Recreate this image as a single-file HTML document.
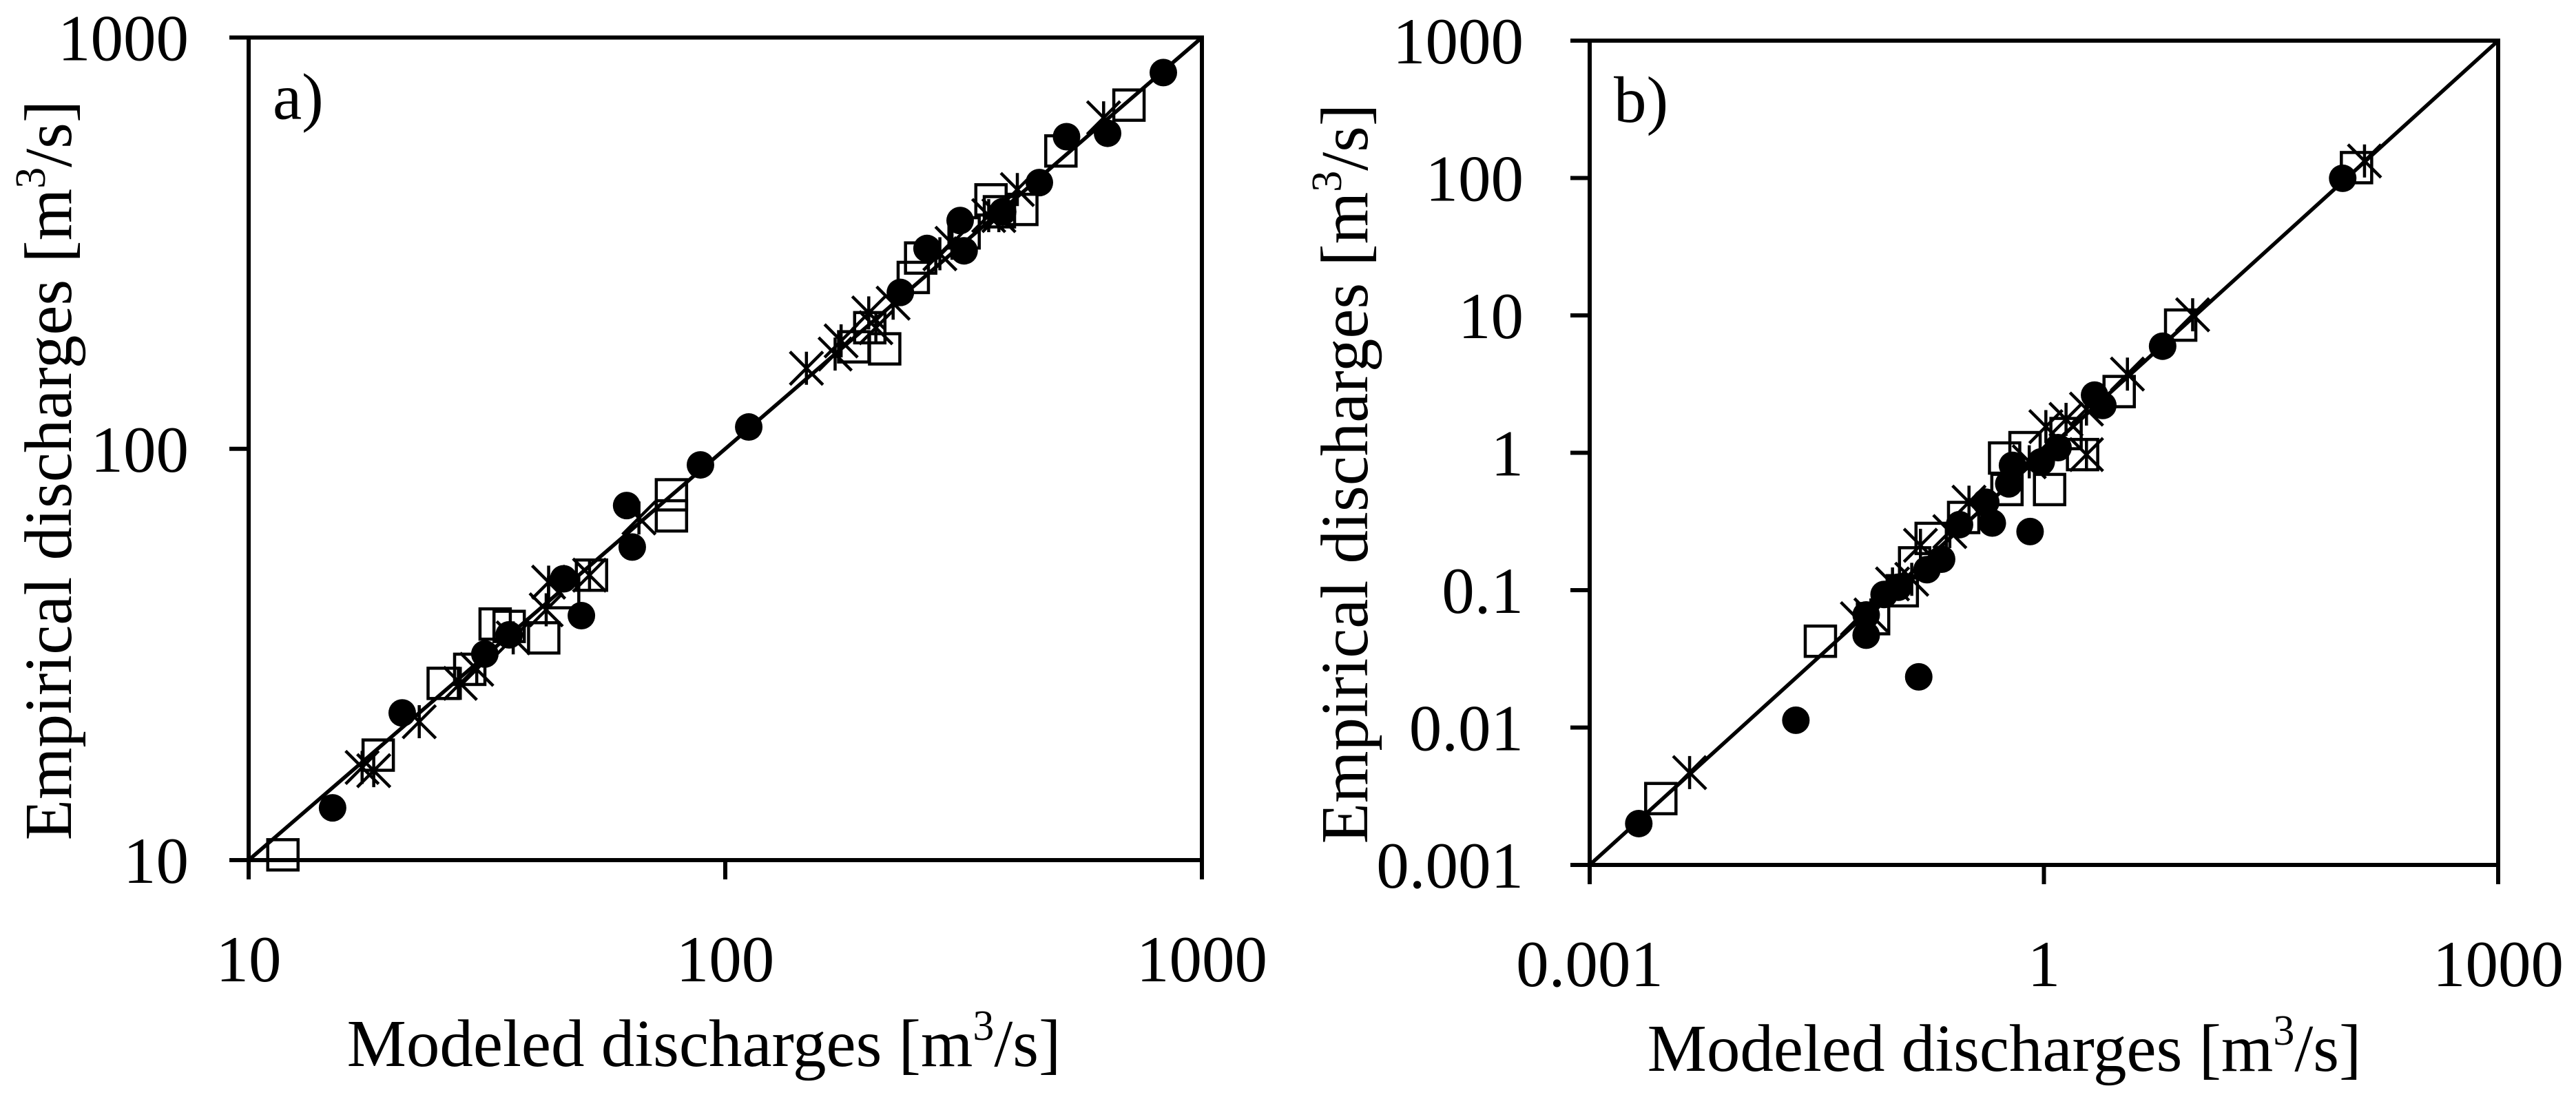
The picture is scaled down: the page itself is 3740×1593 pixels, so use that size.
<!DOCTYPE html>
<html><head><meta charset="utf-8">
<style>
html,body{margin:0;padding:0;background:#fff;}
svg{display:block;}
text{font-family:"Liberation Serif","Times New Roman",serif;fill:#000;}
</style></head>
<body>
<svg id="chart" width="3740" height="1593" viewBox="0 0 3740 1593" xmlns="http://www.w3.org/2000/svg"></svg>
<script>
// ---- Panel a data ----
const aCircleX = [15.0,21.0,31.3,35.2,45.8,49.9,62.1,63.8,88.7,112,233,265,311,317,382,456,520,634,830];
const aCircleY = [13.4,22.8,31.7,35.3,48.3,39.3,72.8,57.7,91.4,113,240,307,359,303,377,444,574,585,822];
const aSquareX = [11.8,18.7,25.6,29.1,32.9,35.2,41.6,45.8,52.4,77.1,77.1,186,201,216,248,257,317,361,376,419,506,703];
const aSquareY = [10.3,18.0,26.9,29.1,37.5,37.0,34.7,44.7,49.3,68.7,77.3,177,197,175,261,291,335,403,377,382,530,685];
const aStarX = [17.3,18.3,22.8,27.8,30.1,35.9,42.1,42.6,51.9,65.9,148,170,175,200,207,225,282,299,357,375,410,622];
const aStarY = [16.8,16.5,21.7,26.9,29.1,34.7,40.6,47.4,49.3,67.9,157,170,183,214,197,226,298,316,369,369,427,638];
const aTicks = [10,100,1000];
const aTickLabels = ["10","100","1000"];
// ---- Panel b data ----
const bCircleX = [0.00211,0.023,0.149,0.067,0.067,0.088,0.109,0.169,0.211,0.277,0.456,0.413,0.81,0.586,0.62,0.96,1.24,2.16,2.45,6.08,94];
const bCircleY = [0.0020,0.0113,0.0234,0.047,0.066,0.093,0.105,0.141,0.168,0.30,0.308,0.437,0.267,0.594,0.81,0.86,1.09,2.63,2.21,5.97,99.5];
const bSquareX = [0.00295,0.0334,0.075,0.116,0.14,0.18,0.295,0.57,0.55,0.75,1.09,1.4,1.8,3.14,8.0,116];
const bSquareY = [0.00304,0.0425,0.062,0.099,0.158,0.238,0.338,0.54,0.916,1.09,0.54,1.38,0.97,2.79,8.5,119];
const bStarX = [0.00457,0.0586,0.072,0.1,0.134,0.153,0.239,0.32,0.8,1.03,1.4,1.91,1.91,3.56,9.6,131];
const bStarY = [0.0047,0.062,0.066,0.111,0.12,0.212,0.267,0.437,0.86,1.55,1.75,2.08,0.97,3.74,10.1,133];
const bTicks = [0.001,0.01,0.1,1,10,100,1000];
const bYTickLabels = ["0.001","0.01","0.1","1","10","100","1000"];
const bXTicks = [0.001,1,1000];
const bXTickLabels = ["0.001","1","1000"];

const NS = "http://www.w3.org/2000/svg";
const svg = document.getElementById('chart');
function mk(tag, attrs, parent){
  const e = document.createElementNS(NS, tag);
  for (const k in attrs) e.setAttribute(k, attrs[k]);
  (parent||svg).appendChild(e);
  return e;
}
function scale(min,max,p0,p1){
  const l0=Math.log10(min), l1=Math.log10(max);
  return v => p0 + (Math.log10(v)-l0)/(l1-l0)*(p1-p0);
}

function panel(cfg){
  const g = mk('g',{});
  
  
  const sx = scale(cfg.min,cfg.max,cfg.L,cfg.R);
  const sy = scale(cfg.min,cfg.max,cfg.B,cfg.T);
  // frame
  const fr = mk('rect',{x:cfg.L,y:cfg.T,width:cfg.R-cfg.L,height:cfg.B-cfg.T,fill:'none',stroke:'#000','stroke-width':6},g);
  
  
  // y ticks
  cfg.yTicks.forEach((t,i)=>{
    const y = sy(t);
    const tk = mk('line',{x1:cfg.L-28,x2:cfg.L,y1:y,y2:y,stroke:'#000','stroke-width':6},g);
    
    
    const tl = mk('text',{x:cfg.yLabelRight,y:y+33,'text-anchor':'end','font-size':95},g);
    tl.textContent = cfg.yLabels[i];
    
    
  });
  cfg.xTicks.forEach((t,i)=>{
    const x = sx(t);
    const tk = mk('line',{x1:x,x2:x,y1:cfg.B,y2:cfg.B+28,stroke:'#000','stroke-width':6},g);
    
    
    const tl = mk('text',{x:x,y:cfg.xLabelBase,'text-anchor':'middle','font-size':95},g);
    tl.textContent = cfg.xLabels[i];
    
    
  });
  // 1:1 line
  const ln = mk('line',{x1:sx(cfg.min),y1:sy(cfg.min),x2:sx(cfg.max),y2:sy(cfg.max),stroke:'#000','stroke-width':5.5},g);
  
  
  // circles
  cfg.cx.forEach((v,i)=>{
    const c = mk('circle',{cx:sx(v),cy:sy(cfg.cy[i]),r:20,fill:'#000'},g);
    
    
  });
  // squares
  cfg.qx.forEach((v,i)=>{
    const x=sx(v), y=sy(cfg.qy[i]);
    const s = mk('rect',{x:x-22,y:y-22,width:44,height:44,fill:'none',stroke:'#000','stroke-width':4.5},g);
    
    
  });
  // stars
  cfg.sx.forEach((v,i)=>{
    const x=sx(v), y=sy(cfg.sy[i]), h=24;
    const p = mk('path',{d:`M${x-h} ${y-h}L${x+h} ${y+h}M${x-h} ${y+h}L${x+h} ${y-h}M${x} ${y-h}L${x} ${y+h}`,stroke:'#000','stroke-width':4.5,fill:'none'},g);
    
    
  });
  // panel letter
  const pl = mk('text',{x:cfg.L+35,y:cfg.T+118,'font-size':95},g);
  pl.textContent = cfg.letter;
  
  
  // axis titles
  const xt = mk('text',{x:cfg.xTitleX,y:cfg.xTitleY,'text-anchor':'middle','font-size':97},g);
  xt.innerHTML = 'Modeled discharges [m<tspan font-size="62" dy="-38">3</tspan><tspan dy="38">/s]</tspan>';
  
  
  const yt = mk('text',{x:0,y:0,'text-anchor':'middle','font-size':97,transform:`translate(${cfg.yTitleX},${cfg.yTitleY}) rotate(-90)`},g);
  yt.innerHTML = 'Empirical discharges [m<tspan font-size="62" dy="-38">3</tspan><tspan dy="38">/s]</tspan>';
  
  
}

panel({name:'panel-a',letter:'a)',min:10,max:1000,L:361,R:1745,T:54.5,B:1249,
  yTicks:aTicks,yLabels:aTickLabels,xTicks:aTicks,xLabels:aTickLabels,
  yLabelRight:274,xLabelBase:1425,xTitleX:1022,xTitleY:1548,yTitleX:103,yTitleY:683,
  cx:aCircleX,cy:aCircleY,qx:aSquareX,qy:aSquareY,sx:aStarX,sy:aStarY});
panel({name:'panel-b',letter:'b)',min:0.001,max:1000,L:2308,R:3627,T:59,B:1256,
  yTicks:bTicks,yLabels:bYTickLabels,xTicks:bXTicks,xLabels:bXTickLabels,
  yLabelRight:2212,xLabelBase:1432,xTitleX:2910,xTitleY:1555,yTitleX:1985,yTitleY:688,
  cx:bCircleX,cy:bCircleY,qx:bSquareX,qy:bSquareY,sx:bStarX,sy:bStarY});
</script>
</body></html>
